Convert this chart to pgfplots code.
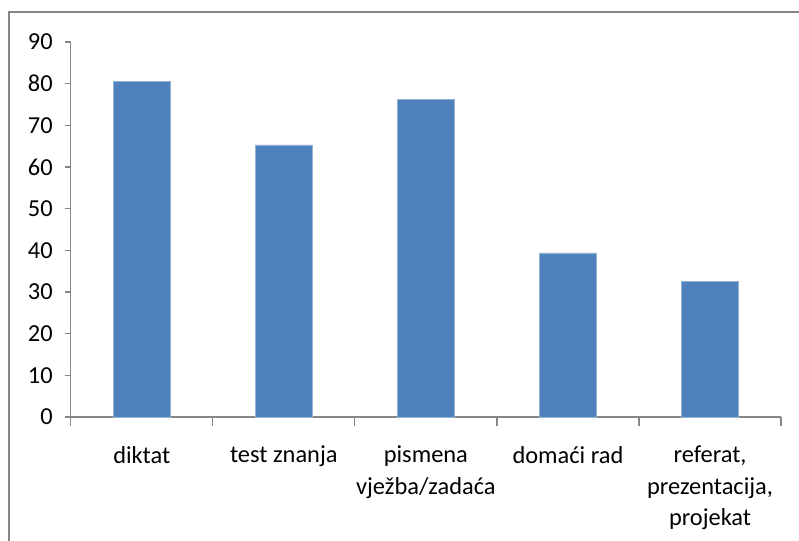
\documentclass[border=0pt]{standalone}
\usepackage{fontspec}
\setmainfont{Carlito}
\usepackage{pgfplots}
\pgfplotsset{compat=1.18}
\definecolor{barblue}{HTML}{4F81BD}
\definecolor{axgray}{HTML}{868686}
\begin{document}
\begin{tikzpicture}
\useasboundingbox (0,0) rectangle (399.5pt,-270.5pt);
% outer frame (only top and left edges are in view)
\draw[axgray, line width=1pt] (4.5pt,-270.5pt) -- (4.5pt,-6pt) -- (399.5pt,-6pt);
\begin{axis}[
  at={(35.35pt,-208.5pt)}, anchor=south west,
  scale only axis, width=355.2pt, height=187.5pt,
  xmin=-0.5, xmax=4.5, ymin=0, ymax=90,
  axis lines*=left,
  axis line style={axgray, line width=0.6pt},
  ytick={0,10,...,90},
  xtick={0,1,2,3,4},
  xticklabels={diktat, test znanja, {pismena\\vježba/zadaća}, domaći rad, {referat,\\prezentacija,\\projekat}},
  minor xtick={-0.5,0.5,1.5,2.5,3.5,4.5},
  every major x tick/.style={draw=none},
  every minor x tick/.style={axgray, line width=0.6pt},
  tick align=outside,
  major tick length=3pt, minor tick length=4.5pt,
  tick style={axgray, line width=0.6pt},
  every tick label/.append style={font=\fontsize{12.2}{15.6}\selectfont, text=black},
  x tick label style={align=center, yshift=-8pt},
  y tick label style={xshift=-2.5pt},
  /pgf/number format/assume math mode=true,
  ybar, bar width=0.4,
]
\addplot[fill=barblue, draw=barblue!60!white, line width=0.3pt] coordinates {
  (0,80.5) (1,65.3) (2,76.3) (3,39.4) (4,32.6)
};
\end{axis}
\end{tikzpicture}
\end{document}
